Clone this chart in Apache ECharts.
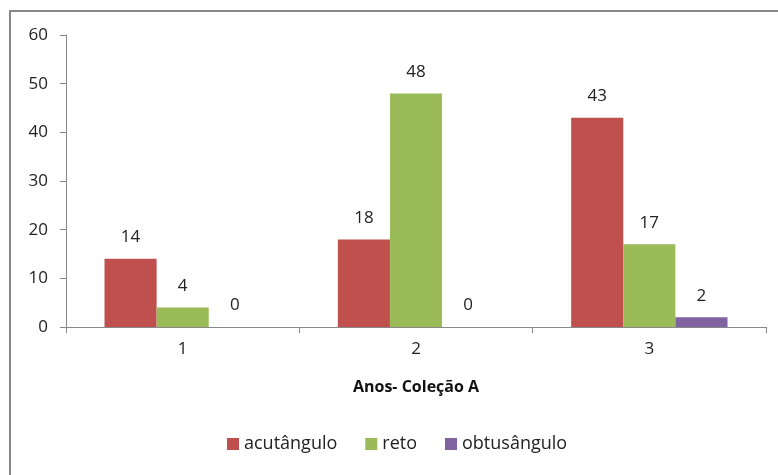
<!DOCTYPE html>
<html>
<head>
<meta charset="utf-8">
<script src="https://cdn.jsdelivr.net/npm/echarts@6/dist/echarts.min.js"></script>
<style>
  html, body { margin: 0; padding: 0; background: #fff; }
  #chart { width: 778px; height: 475px; }
</style>
</head>
<body>
<div id="chart"></div>
<script>
const categories = ['1', '2', '3']
const acutangulo = [14, 18, 43]
const reto = [4, 48, 17]
const obtusangulo = [0, 0, 2]
const yTicks = { min: 0, max: 60, interval: 10 }

const font = 'Open Sans'
const chart = echarts.init(document.getElementById('chart'))

const bar = (name, data, color) => ({
  name,
  type: 'bar',
  data,
  barGap: 0,
  barCategoryGap: '33%',
  itemStyle: { color },
  label: {
    show: true,
    position: 'top',
    distance: 13,
    color: '#222',
    fontFamily: font,
    fontSize: 17,
  },
})

chart.setOption({
  animation: false,
  textStyle: { fontFamily: font },
  graphic: [{
    type: 'rect',
    shape: { x: 10, y: 11, width: 800, height: 500 },
    style: { fill: 'none', stroke: '#878787', lineWidth: 2 },
    silent: true,
  }],
  grid: { left: 66, right: 12, top: 35, bottom: 148 },
  legend: {
    bottom: 17,
    left: 222,
    itemWidth: 12,
    itemHeight: 12,
    itemGap: 28,
    icon: 'rect',
    textStyle: { fontFamily: font, fontSize: 18, color: '#222' },
    data: ['acutângulo', 'reto', 'obtusângulo'],
  },
  xAxis: {
    type: 'category',
    data: categories,
    name: 'Anos- Coleção A',
    nameLocation: 'middle',
    nameGap: 52,
    nameTextStyle: { fontFamily: font, fontSize: 16, fontWeight: 'bold', color: '#111' },
    axisLine: { lineStyle: { color: '#888' } },
    axisTick: { show: true, length: 6, lineStyle: { color: '#888' } },
    axisLabel: { color: '#222', fontFamily: font, fontSize: 17, margin: 14 },
  },
  yAxis: {
    type: 'value',
    min: yTicks.min,
    max: yTicks.max,
    interval: yTicks.interval,
    axisLine: { show: true, lineStyle: { color: '#888' } },
    axisTick: { show: true, length: 6, lineStyle: { color: '#888' } },
    splitLine: { show: false },
    axisLabel: { color: '#222', fontFamily: font, fontSize: 17, margin: 18 },
  },
  series: [
    bar('acutângulo', acutangulo, '#C0504D'),
    bar('reto', reto, '#9BBB59'),
    bar('obtusângulo', obtusangulo, '#8064A2'),
  ],
})
</script>
</body>
</html>
